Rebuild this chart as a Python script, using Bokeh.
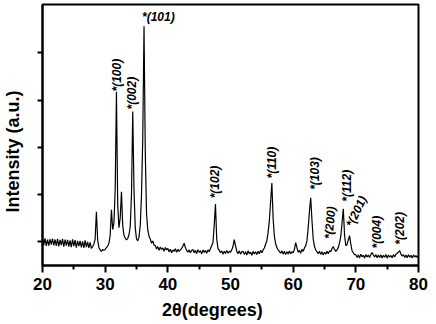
from math import pi
from bokeh.plotting import figure
from bokeh.models import Range1d, FixedTicker, ColumnDataSource, LinearAxis
from bokeh.core.properties import value
from bokeh.embed import file_html
from bokeh.resources import INLINE

# ---- data -------------------------------------------------------------
# XRD scan: 2theta from 20 to 80 deg in 0.2 deg steps (scan grid)
scan_start = 20.0
scan_step = 0.2
intensity = [
    560, 430, 575, 415, 545, 420, 560, 440, 570, 425,      # 20.0
    550, 415, 565, 405, 540, 430, 565, 400, 545, 420,      # 22.0
    540, 400, 530, 390, 555, 410, 535, 380, 520, 410,      # 24.0
    520, 385, 510, 370, 530, 390, 500, 375, 490, 360,      # 26.0
    400, 450, 560, 1135, 540, 380, 330, 300, 340, 320,     # 28.0
    340, 380, 410, 470, 640, 1180, 760, 900, 1600, 3675,   # 30.0
    1300, 800, 1000, 1560, 850, 640, 580, 540, 570, 650,   # 32.0
    820, 1500, 3255, 1600, 800, 560, 520, 600, 850, 1500,  # 34.0
    2700, 5060, 2400, 1100, 750, 620, 560, 470, 520, 430,  # 36.0
    420, 350, 400, 320, 390, 340, 370, 300, 380, 330,      # 38.0
    360, 290, 345, 270, 330, 300, 355, 280, 340, 300,      # 40.0
    330, 360, 410, 470, 380, 320, 280, 330, 270, 320,      # 42.0
    340, 270, 320, 250, 335, 280, 310, 245, 330, 275,      # 44.0
    320, 260, 330, 290, 360, 420, 480, 850, 1300, 560,     # 46.0
    360, 320, 270, 310, 240, 300, 255, 320, 260, 300,      # 48.0
    280, 330, 400, 545, 420, 300, 250, 310, 240, 290,      # 50.0
    300, 235, 290, 220, 310, 250, 280, 215, 300, 245,      # 52.0
    290, 230, 300, 250, 320, 270, 330, 370, 450, 520,      # 54.0
    700, 950, 1350, 1745, 1000, 620, 460, 380, 330, 300,   # 56.0
    260, 310, 240, 300, 230, 290, 245, 305, 250, 290,      # 58.0
    270, 340, 485, 380, 280, 320, 260, 340, 300, 370,      # 60.0
    420, 520, 800, 1150, 1430, 950, 560, 400, 330, 290,    # 62.0
    250, 300, 235, 290, 220, 280, 240, 300, 250, 310,      # 64.0
    290, 360, 400, 340, 300, 330, 380, 480, 620, 900,      # 66.0
    1200, 640, 420, 440, 540, 630, 450, 310, 270, 230,     # 68.0
    230, 170, 220, 160, 240, 185, 215, 155, 230, 180,      # 70.0
    220, 170, 230, 275, 220, 180, 230, 165, 220, 170,      # 72.0
    225, 160, 215, 175, 230, 155, 220, 180, 210, 165,      # 74.0
    230, 180, 240, 260, 280, 315, 240, 200, 230, 170,      # 76.0
    220, 165, 230, 175, 215, 160, 225, 180, 210, 170,      # 78.0
    200,                                                   # 80.0
]
two_theta = [round(scan_start + scan_step * i, 1) for i in range(len(intensity))]

x_ticks = [20, 30, 40, 50, 60, 70, 80]
x_minor_ticks = [25, 35, 45, 55, 65, 75]
y_ticks = [500, 1500, 2500, 3500, 4500]

peak_labels = ["*(100)", "*(002)", "*(102)", "*(110)", "*(103)",
               "*(200)", "*(112)", "*(201)", "*(004)", "*(202)"]
peak_label_x = [31.9, 34.31, 47.6, 56.65, 63.56, 65.64, 68.62, 68.99, 73.41, 77.12]
peak_label_y = [3680, 3300, 1420, 1840, 1600, 560, 1350, 830, 360, 440]
peak_label_angle = [pi / 2, pi / 2, pi / 2, pi / 2, pi / 2,
                    1.48, pi / 2, 1.13, pi / 2, pi / 2]
top_label = "*(101)"
top_label_x = 35.88
top_label_y = 5250

x_title = "2θ(degrees)"
x_title_pos = 47.1
y_title = "Intensity (a.u.)"
y_title_pos = 2412

FONT = "Liberation Sans"

# ---- figure -----------------------------------------------------------
p = figure(width=434, height=322, output_backend="svg", toolbar_location=None,
           x_range=Range1d(20, 80), y_range=Range1d(0, 5520),
           min_border_left=42, min_border_right=16, min_border_top=4,
           min_border_bottom=57)
p.xgrid.visible = False
p.ygrid.visible = False
p.background_fill_color = "white"
p.border_fill_color = "white"
p.outline_line_color = "black"
p.outline_line_width = 2
p.outline_line_alpha = 1

p.line(two_theta, intensity, line_color="black", line_width=1.2)

xa = p.xaxis[0]
xa.ticker = FixedTicker(ticks=x_ticks, minor_ticks=x_minor_ticks)
xa.axis_line_width = 2
xa.major_tick_line_width = 2
xa.minor_tick_line_width = 2
xa.major_tick_out = 7
xa.major_tick_in = 0
xa.minor_tick_out = 4
xa.minor_tick_in = 0
xa.major_label_text_font = FONT
xa.major_label_text_font_style = "bold"
xa.major_label_text_font_size = "17px"
xa.major_label_text_color = "black"
xa.major_label_standoff = 5

ya = p.yaxis[0]
ya.ticker = FixedTicker(ticks=y_ticks, minor_ticks=[])
ya.axis_line_width = 2
ya.major_tick_line_width = 2
ya.major_tick_out = 5
ya.major_tick_in = 0
ya.minor_tick_out = 0
ya.minor_tick_in = 0
ya.major_label_overrides = {t: "" for t in y_ticks}
ya.major_label_standoff = 0

# axis titles placed as single-label axes so they can sit off-centre
xt = LinearAxis(ticker=FixedTicker(ticks=[x_title_pos], minor_ticks=[]),
                major_label_overrides={x_title_pos: x_title},
                axis_line_color=None, major_tick_line_color=None,
                minor_tick_line_color=None, major_tick_out=0, major_tick_in=0,
                major_label_standoff=7,
                major_label_text_font=FONT, major_label_text_font_style="bold",
                major_label_text_font_size="18px",
                major_label_text_color="black")
p.add_layout(xt, "below")

yt = LinearAxis(ticker=FixedTicker(ticks=[y_title_pos], minor_ticks=[]),
                major_label_overrides={y_title_pos: y_title},
                major_label_orientation="vertical",
                axis_line_color=None, major_tick_line_color=None,
                minor_tick_line_color=None, major_tick_out=0, major_tick_in=0,
                major_label_standoff=14,
                major_label_text_font=FONT, major_label_text_font_style="bold",
                major_label_text_font_size="18px",
                major_label_text_color="black")
p.add_layout(yt, "left")

# peak annotations
src = ColumnDataSource(dict(x=peak_label_x, y=peak_label_y,
                            t=peak_labels, a=peak_label_angle))
p.text(x="x", y="y", text="t", angle="a", source=src,
       text_font=value(FONT), text_font_style="bold italic",
       text_font_size="12px", text_align="left", text_baseline="middle",
       text_color="black")
p.text(x=[top_label_x], y=[top_label_y], text=[top_label],
       text_font=value(FONT), text_font_style="bold italic",
       text_font_size="12px", text_align="left", text_baseline="middle",
       text_color="black")

open("out.html", "w").write(file_html(p, INLINE))
